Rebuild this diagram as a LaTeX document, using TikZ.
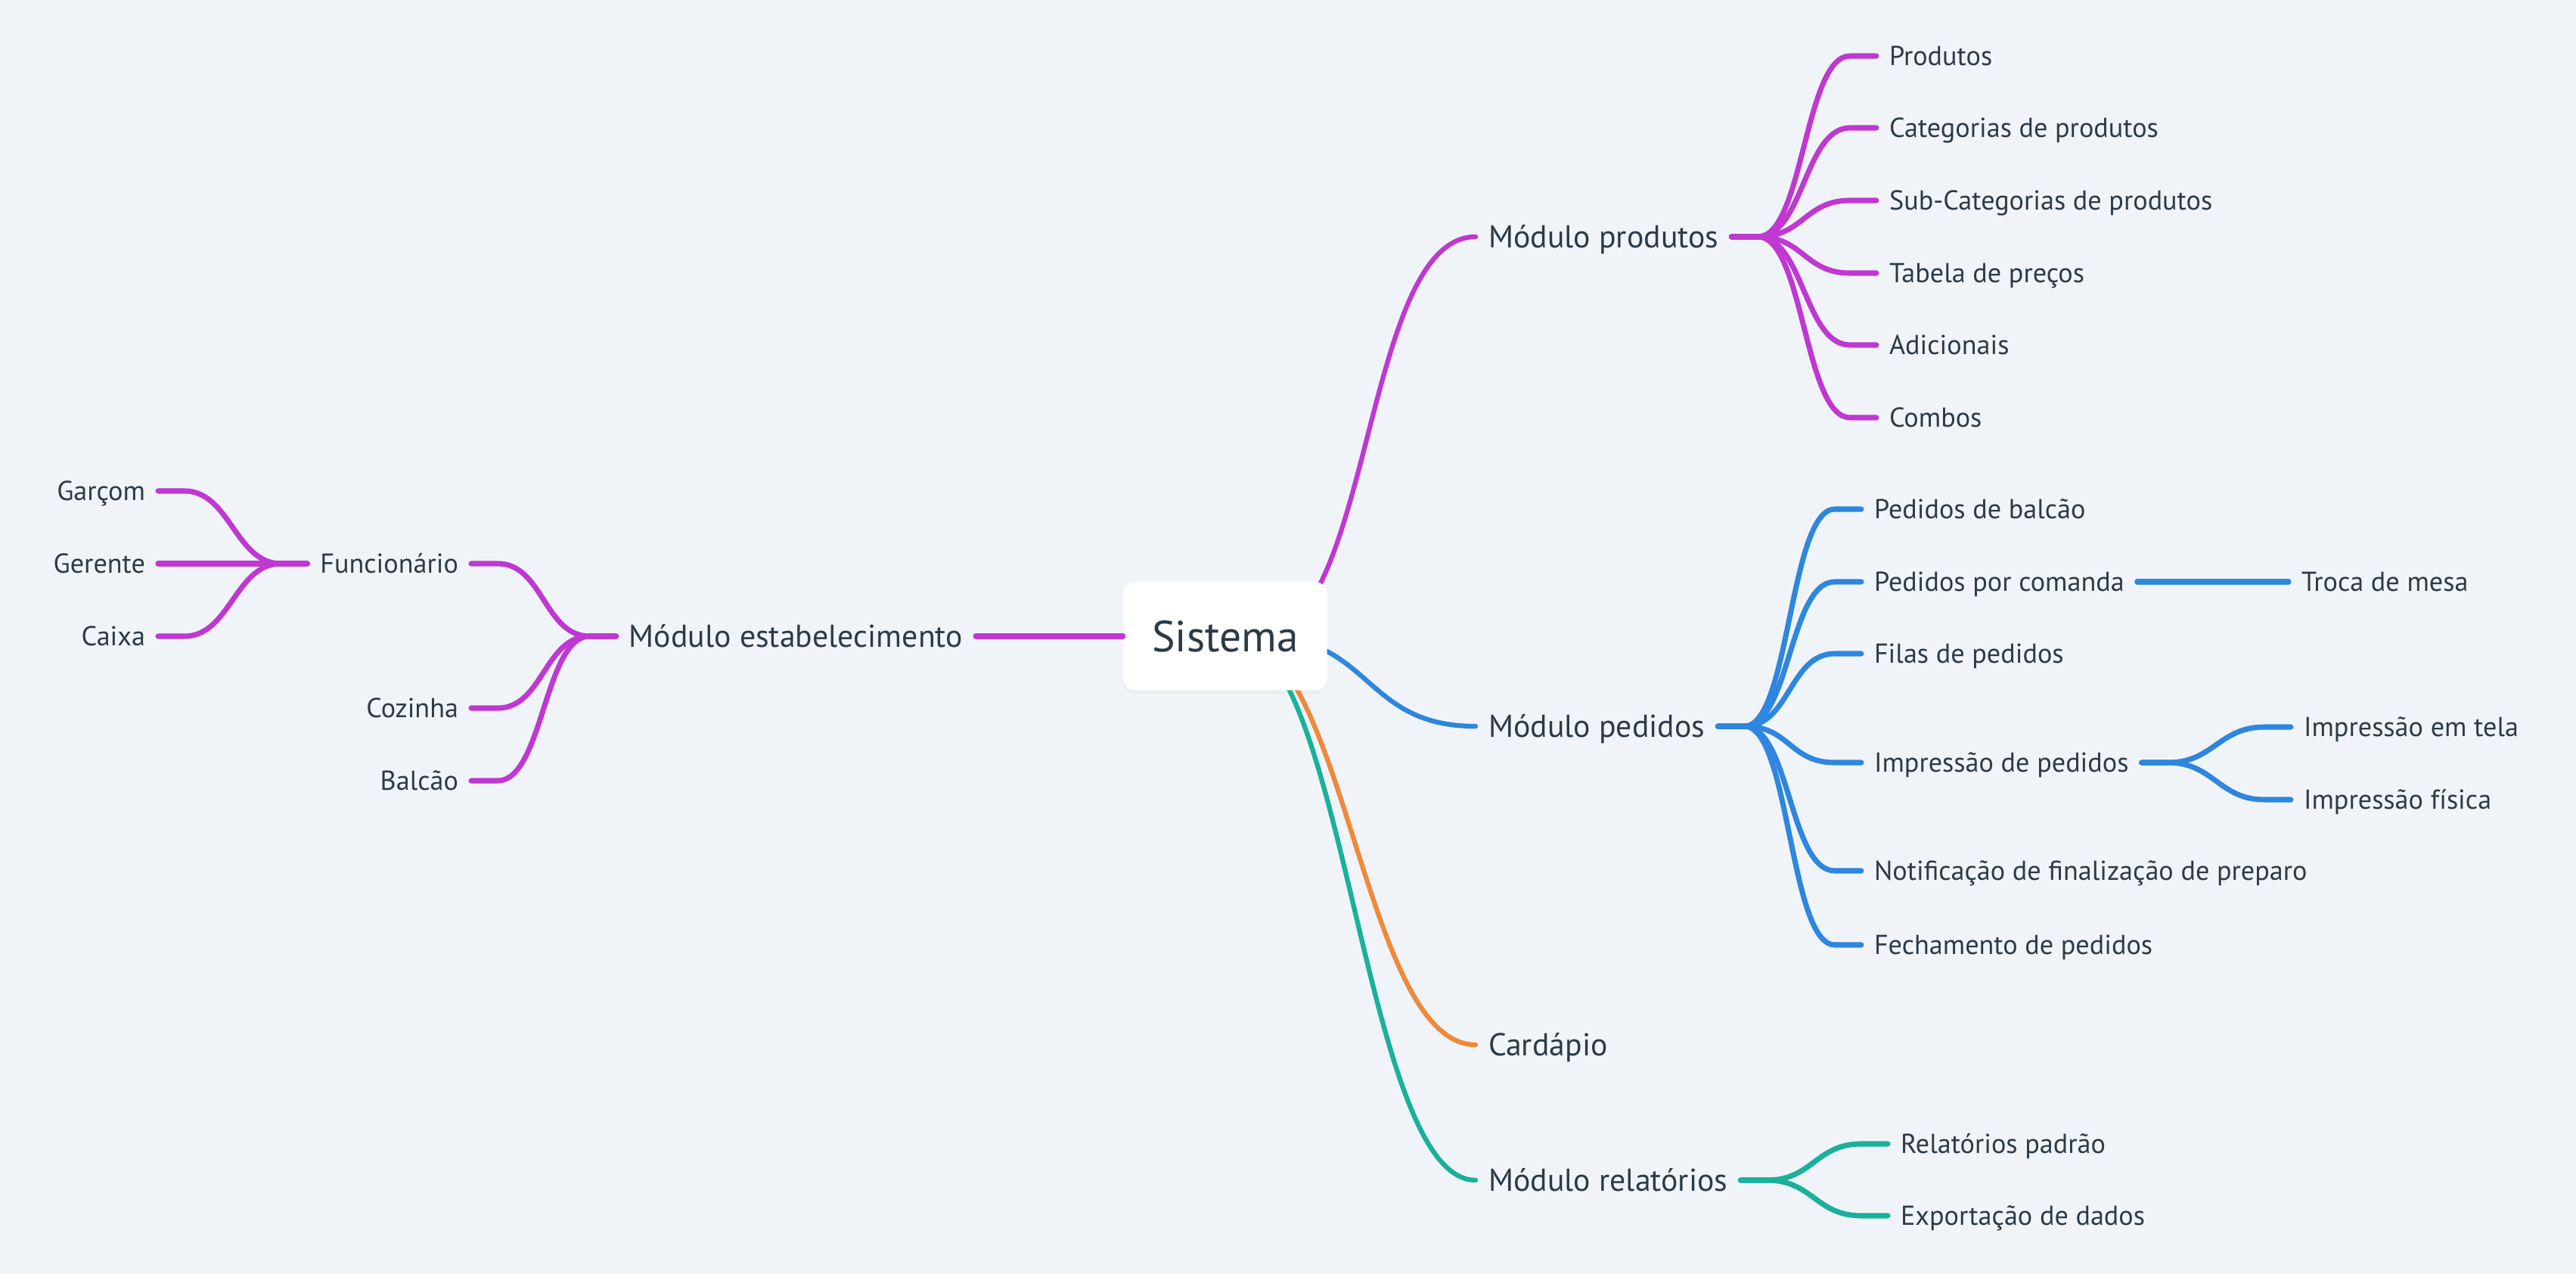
\documentclass[tikz,border=0pt]{standalone}
\usepackage{fontspec}
\setmainfont{PT Sans}
\usetikzlibrary{calc}
\usetikzlibrary{shadows}
\definecolor{fundo}{HTML}{F0F4F8}
\definecolor{texto}{HTML}{2C3A48}
\definecolor{roxo}{HTML}{BF38D1}
\definecolor{azul}{HTML}{2E86DE}
\definecolor{laranja}{HTML}{EE8A3C}
\definecolor{verde}{HTML}{1AB09C}
\tikzset{
  folha/.style={inner sep=0pt, outer xsep=0.17cm, text=texto, font=\fontsize{10.3}{12}\selectfont, text height=7pt, text depth=0pt},
  modulo/.style={folha, font=\fontsize{11.9}{14}\selectfont, text height=8pt},
  ligacao/.style={line width=2pt, line cap=round},
  ramo/.style={to path={-- ++(0.35,0) .. controls +(0.6,0) and +(-0.6,0) .. ($(\tikztotarget)+(-0.35,0)$) -- (\tikztotarget)}},
  ramoesq/.style={to path={-- ++(-0.35,0) .. controls +(-0.6,0) and +(0.6,0) .. ($(\tikztotarget)+(0.35,0)$) -- (\tikztotarget)}},
  tronco/.style={to path={.. controls +(1.5,0) and +(-1.5,0) .. (\tikztotarget)}}
}

\begin{document}
\begin{tikzpicture}

\fill[fundo] (0,0) rectangle (34.06,-16.84);
\useasboundingbox (0,0) rectangle (34.06,-16.84);

\coordinate (centro) at (16.65,-8.41);
\coordinate (centrob) at (16.30,-8.41);

\node[modulo, anchor=west] (mprod) at (19.51,-3.13) {Módulo produtos};
\node[modulo, anchor=west] (mped) at (19.51,-9.60) {Módulo pedidos};
\node[modulo, anchor=west] (card) at (19.51,-13.81) {Cardápio};
\node[modulo, anchor=west] (mrel) at (19.51,-15.60) {Módulo relatórios};
\node[modulo, anchor=east] (mest) at (12.90,-8.41) {Módulo estabelecimento};

\node[folha, anchor=west] (produtos) at (24.81,-0.74) {Produtos};
\node[folha, anchor=west] (categ) at (24.81,-1.69) {Categorias de produtos};
\node[folha, anchor=west] (subcateg) at (24.81,-2.65) {Sub-Categorias de produtos};
\node[folha, anchor=west] (tabela) at (24.81,-3.61) {Tabela de preços};
\node[folha, anchor=west] (adic) at (24.81,-4.56) {Adicionais};
\node[folha, anchor=west] (combos) at (24.81,-5.52) {Combos};

\node[folha, anchor=west] (balcao) at (24.61,-6.73) {Pedidos de balcão};
\node[folha, anchor=west] (comanda) at (24.61,-7.69) {Pedidos por comanda};
\node[folha, anchor=west] (filas) at (24.61,-8.64) {Filas de pedidos};
\node[folha, anchor=west] (impr) at (24.61,-10.08) {Impressão de pedidos};
\node[folha, anchor=west] (notif) at (24.61,-11.51) {Notificação de finalização de preparo};
\node[folha, anchor=west] (fecha) at (24.61,-12.49) {Fechamento de pedidos};
\node[folha, anchor=west] (troca) at (30.26,-7.69) {Troca de mesa};
\node[folha, anchor=west] (tela) at (30.29,-9.61) {Impressão em tela};
\node[folha, anchor=west] (fisica) at (30.29,-10.57) {Impressão física};

\node[folha, anchor=west] (padrao) at (24.96,-15.12) {Relatórios padrão};
\node[folha, anchor=west] (export) at (24.96,-16.07) {Exportação de dados};

\node[folha, anchor=east] (func) at (6.23,-7.45) {Funcionário};
\node[folha, anchor=east] (cozinha) at (6.23,-9.36) {Cozinha};
\node[folha, anchor=east] (balcaoe) at (6.23,-10.32) {Balcão};
\node[folha, anchor=east] (garcom) at (2.09,-6.49) {Garçom};
\node[folha, anchor=east] (gerente) at (2.09,-7.45) {Gerente};
\node[folha, anchor=east] (caixa) at (2.09,-8.41) {Caixa};

\draw[ligacao, roxo, line width=1.8pt] (centro) to[tronco] (mprod.west);
\draw[ligacao, azul, line width=1.8pt] (centro) to[tronco] (mped.west);
\draw[ligacao, verde, line width=1.8pt] (centrob) to[tronco] (mrel.west);
\draw[ligacao, laranja, line width=1.8pt] (centrob) to[tronco] (card.west);

\node[fill=white, rounded corners=0.15cm, minimum width=2.69cm, minimum height=1.43cm, text=texto, font=\fontsize{16.4}{19}\selectfont, drop shadow={shadow xshift=0pt, shadow yshift=-1.5pt, opacity=0.05}] (sis) at (16.20,-8.41) {Sistema};

\draw[ligacao, roxo] (mest.east) -- (sis.west);

\draw[ligacao, roxo] (mprod.east) to[ramo] (produtos.west);
\draw[ligacao, roxo] (mprod.east) to[ramo] (categ.west);
\draw[ligacao, roxo] (mprod.east) to[ramo] (subcateg.west);
\draw[ligacao, roxo] (mprod.east) to[ramo] (tabela.west);
\draw[ligacao, roxo] (mprod.east) to[ramo] (adic.west);
\draw[ligacao, roxo] (mprod.east) to[ramo] (combos.west);

\draw[ligacao, azul] (mped.east) to[ramo] (balcao.west);
\draw[ligacao, azul] (mped.east) to[ramo] (comanda.west);
\draw[ligacao, azul] (mped.east) to[ramo] (filas.west);
\draw[ligacao, azul] (mped.east) to[ramo] (impr.west);
\draw[ligacao, azul] (mped.east) to[ramo] (notif.west);
\draw[ligacao, azul] (mped.east) to[ramo] (fecha.west);
\draw[ligacao, azul] (comanda.east) to[ramo] (troca.west);
\draw[ligacao, azul] (impr.east) to[ramo] (tela.west);
\draw[ligacao, azul] (impr.east) to[ramo] (fisica.west);

\draw[ligacao, verde] (mrel.east) to[ramo] (padrao.west);
\draw[ligacao, verde] (mrel.east) to[ramo] (export.west);

\draw[ligacao, roxo] (mest.west) to[ramoesq] (func.east);
\draw[ligacao, roxo] (mest.west) to[ramoesq] (cozinha.east);
\draw[ligacao, roxo] (mest.west) to[ramoesq] (balcaoe.east);
\draw[ligacao, roxo] (func.west) to[ramoesq] (garcom.east);
\draw[ligacao, roxo] (func.west) to[ramoesq] (gerente.east);
\draw[ligacao, roxo] (func.west) to[ramoesq] (caixa.east);

\end{tikzpicture}
\end{document}
